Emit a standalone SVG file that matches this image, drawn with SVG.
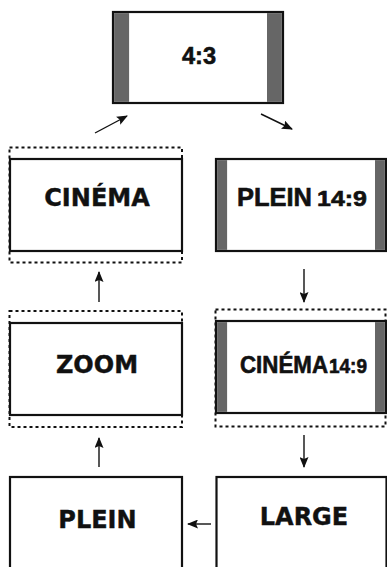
<svg xmlns="http://www.w3.org/2000/svg" width="387" height="567" viewBox="0 0 387 567">
<style>
.box{fill:#fff;stroke:#111;stroke-width:2.2}
.dot{fill:none;stroke:#111;stroke-width:2;stroke-dasharray:3 3}
.bar{fill:#666}
.lbl{font-family:"DejaVu Sans",sans-serif;font-weight:bold;font-size:24px;fill:#111;text-anchor:middle;stroke:#111;stroke-width:0.4}
.nar{font-family:"Liberation Sans",Arial,sans-serif;font-weight:bold;fill:#111;stroke:#111;stroke-width:0.6}
.conn line{stroke:#111;stroke-width:1.4;marker-end:url(#ah)}
</style>
<defs>
<marker id="ah" markerWidth="11" markerHeight="9" refX="10" refY="4.5" orient="auto" markerUnits="userSpaceOnUse">
<path d="M0,0 L11,4.5 L0,9 L2,4.5 Z" fill="#111"/>
</marker>
</defs>
<rect width="387" height="567" fill="#fff"/>
<g id="n43">
<rect class="box" x="113" y="12" width="170" height="91"/>
<rect class="bar" x="114.1" y="13.1" width="15" height="88.8"/>
<rect class="bar" x="267" y="13.1" width="14.9" height="88.8"/>
<text class="nar" x="182" y="63.5" font-size="24" textLength="34" lengthAdjust="spacingAndGlyphs">4:3</text>
</g>
<g id="ncinema">
<rect class="dot" x="9.5" y="147.5" width="172.5" height="115"/>
<rect class="box" x="10" y="159" width="172" height="92"/>
<text class="lbl" x="97" y="206">CINÉMA</text>
</g>
<g id="nplein149">
<rect class="box" x="216" y="159" width="170" height="92"/>
<rect class="bar" x="217.1" y="160.1" width="10" height="89.8"/>
<rect class="bar" x="375" y="160.1" width="9.9" height="89.8"/>
<text class="nar" x="237" y="206" font-size="25" textLength="75" lengthAdjust="spacingAndGlyphs">PLEIN</text>
<text class="nar" x="317" y="206" font-size="21.5" textLength="50" lengthAdjust="spacingAndGlyphs">14:9</text>
</g>
<g id="nzoom">
<rect class="dot" x="9.5" y="311" width="172.5" height="116"/>
<rect class="box" x="10" y="323" width="172" height="92"/>
<text class="lbl" x="97" y="373">ZOOM</text>
</g>
<g id="ncinema149">
<rect class="dot" x="215.5" y="309.5" width="170" height="117"/>
<rect class="box" x="216" y="321" width="170" height="92"/>
<rect class="bar" x="217.1" y="322.1" width="10" height="89.8"/>
<rect class="bar" x="375" y="322.1" width="9.9" height="89.8"/>
<text class="nar" x="240" y="373" font-size="23.5" textLength="88" lengthAdjust="spacingAndGlyphs">CINÉMA</text>
<text class="nar" x="329" y="373" font-size="20.5" textLength="38" lengthAdjust="spacingAndGlyphs">14:9</text>
</g>
<g id="nplein">
<rect class="box" x="10" y="477" width="172" height="100"/>
<text class="lbl" x="97.5" y="528">PLEIN</text>
</g>
<g id="nlarge">
<rect class="box" x="216.5" y="477" width="170" height="100"/>
<text class="lbl" x="304" y="525">LARGE</text>
</g>
<g id="connectors" class="conn">
<line x1="95" y1="133" x2="127" y2="116"/>
<line x1="261" y1="114" x2="292" y2="129"/>
<line x1="99" y1="302" x2="99" y2="272"/>
<line x1="304" y1="269" x2="304" y2="302"/>
<line x1="99" y1="467" x2="99" y2="438"/>
<line x1="304" y1="435" x2="304" y2="467"/>
<line x1="211" y1="524" x2="188" y2="524"/>
</g>
</svg>
